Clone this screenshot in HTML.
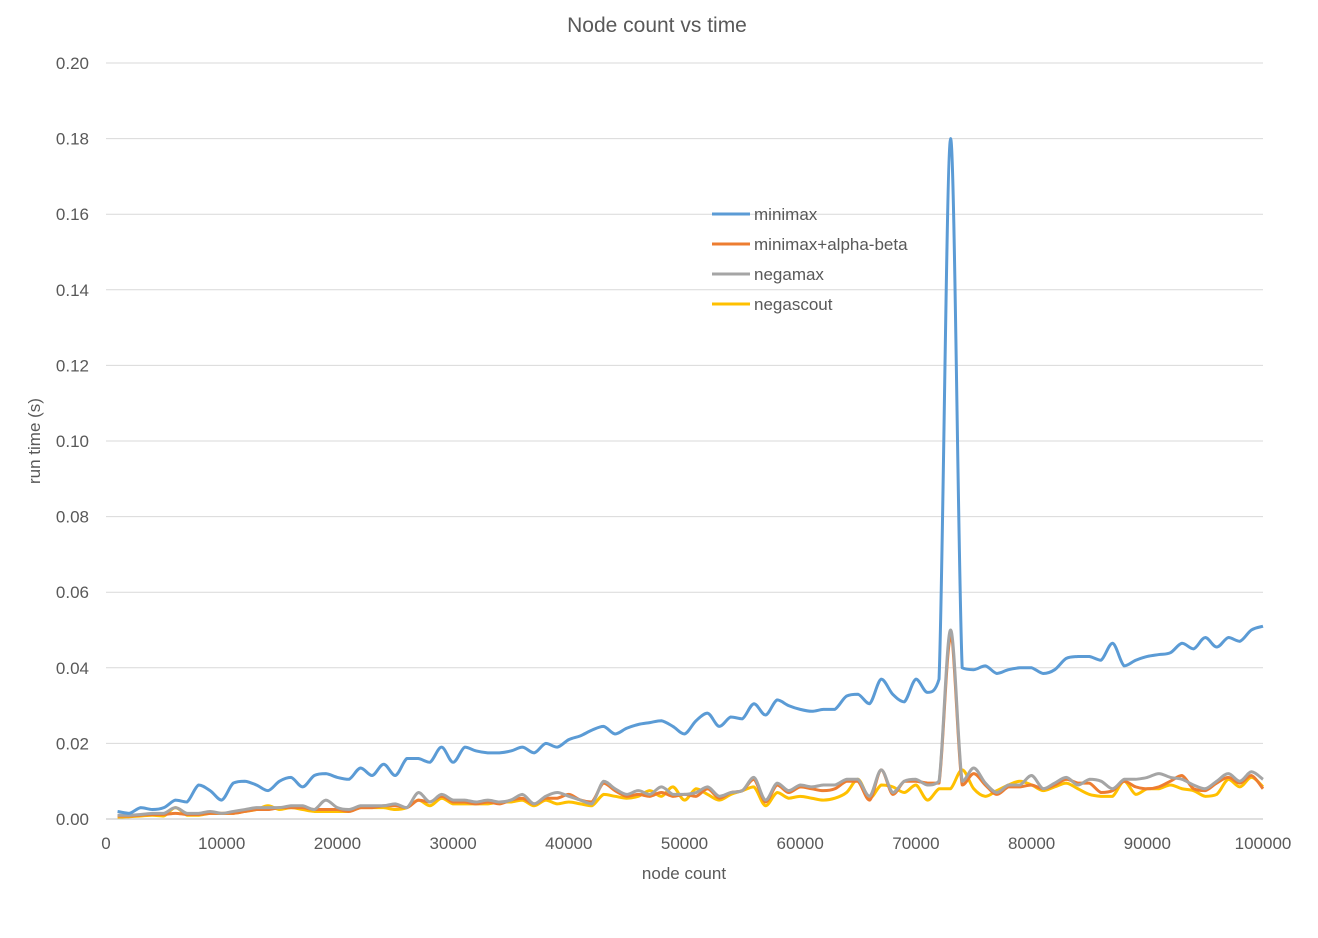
<!DOCTYPE html>
<html><head><meta charset="utf-8"><style>
body{margin:0;background:#fff;font-family:"Liberation Sans",sans-serif}
svg text{font-family:"Liberation Sans",sans-serif;fill:#595959}
</style></head><body>
<svg id="chart" width="1318" height="933" xmlns="http://www.w3.org/2000/svg">
<text x="657" y="32" text-anchor="middle" font-size="21">Node count vs time</text>
<g id="grid"></g>
<g id="yticks"></g>
<g id="xticks"></g>
<text x="684" y="879" text-anchor="middle" font-size="17">node count</text>
<text transform="translate(40,441) rotate(-90)" text-anchor="middle" font-size="17">run time (s)</text>
<g id="series"></g>
<g id="legend"></g>
</svg>
<script>
const names=["minimax","minimax+alpha-beta","negamax","negascout"];
const colors=["#5b9bd5","#ed7d31","#a5a5a5","#ffc000"];
const xTicks=[0,10000,20000,30000,40000,50000,60000,70000,80000,90000,100000];
const yTicks=[0,0.02,0.04,0.06,0.08,0.10,0.12,0.14,0.16,0.18,0.20];
const minimax=[2,1.5,3,2.5,3,5,4.5,9,7.5,5,9.5,10,9,7.5,10,11,8.5,11.5,12,11,10.5,13.5,11.5,14.5,11.5,16,16,15,19,15,19,18,17.5,17.5,18,19,17.5,20,19,21,22,23.5,24.5,22.5,24,25,25.5,26,24.5,22.5,26,28,24.5,27,26.5,30.5,27.5,31.5,30,29,28.5,29,29,32.5,33,30.5,37,33,31,37,33.5,37,180,40,39.5,40.5,38.5,39.5,40,40,38.5,39.5,42.5,43,43,42,46.5,40.5,42,43,43.5,44,46.5,45,48,45.5,48,47,50,51];
const alphabeta=[0.8,0.8,1,1.2,1.2,1.5,1.2,1.2,1.5,1.5,1.5,2,2.5,2.5,3,3,3,2.5,2.5,2.5,2,3,3,3.5,3.5,3,5,4.5,6,4.5,4.5,4,4.5,4,5,5.5,4,5.5,5.5,6.5,5,4.5,9.5,7.5,6,6.5,6,7,6,6.5,6,8,5.5,7,7.5,10.5,4.5,9,7,8.5,8,7.5,8,10,10,5,13,6.5,10,10,9.5,9.5,48,9,12,9,6.5,8.5,8.5,9,8,9,10.5,9.5,9.5,7,7.5,10,8.5,8,8.5,10,11.5,8,7.5,9.5,11,9.5,11.5,8];
const negamax=[1,1,1.2,1.5,1.5,3,1.5,1.5,2,1.5,2,2.5,3,3,3,3.5,3.5,2.5,5,3,2.5,3.5,3.5,3.5,4,3,7,4.5,6.5,5,5,4.5,5,4.5,5,6.5,4,6,7,6,5,4,10,8,6.5,7.5,6.5,8.5,6.5,6.5,7,8.5,6,7,7.5,11,5,9.5,7.5,9,8.5,9,9,10.5,10.5,6,13,7,10,10.5,9,10,50,10,13.5,9.5,7,9,9,11.5,8,9.5,11,9,10.5,10,8,10.5,10.5,11,12,11,10.5,9,8,10,12,10,12.5,10.5];
const negascout=[0.5,0.6,0.8,1,0.8,3,1,1,1.5,1.5,1.5,2,2.5,3.5,2.5,3,2.5,2,2,2,2,3,3,3,2.5,3,5,3.5,5.5,4,4,4,4,4.5,4.5,5,3.5,5,4,4.5,4,3.5,6.5,6,5.5,6,7.5,6,8.5,5,8,6.5,5,6.5,7.5,8.5,3.5,7,5.5,6,5.5,5,5.5,7,10.5,5.5,9,8.5,7,9,5,8,8,13,8,6,7.5,9,10,9,7.5,8.5,9.5,8,6.5,6,6,10,6.5,8,8,9,8,7.5,6,6.5,10.5,8.5,11,8.5];
const seriesData=[minimax,alphabeta,negamax,negascout];

const X0=106,X1=1263,Y0=819,Y1=63;
const xs=v=>X0+(v/100000)*(X1-X0);
const ys=v=>Y0-(v/0.2)*(Y0-Y1);
const NS="http://www.w3.org/2000/svg";
function mk(t,a,p){const e=document.createElementNS(NS,t);for(const k in a)e.setAttribute(k,a[k]);p.appendChild(e);return e;}
const grid=document.getElementById('grid'),yt=document.getElementById('yticks'),xt=document.getElementById('xticks');
yTicks.forEach((t,i)=>{
  const l=mk('line',{x1:X0,x2:X1,y1:ys(t),y2:ys(t),stroke:i==0?'#bfbfbf':'#d9d9d9','stroke-width':1},grid);
  
  
  const tx=mk('text',{x:89,y:ys(t)+6,'text-anchor':'end','font-size':17},yt);
  tx.textContent=t.toFixed(2);
  
  
});
xTicks.forEach(t=>{
  const tx=mk('text',{x:xs(t),y:849,'text-anchor':'middle','font-size':17},xt);
  tx.textContent=t;
  
  
});
const clamp=(v,a,b)=>Math.max(Math.min(a,b),Math.min(Math.max(a,b),v));
function smooth(pts){
  let d=`M${pts[0][0]},${pts[0][1]}`;
  for(let i=0;i<pts.length-1;i++){
    const p0=pts[i-1]||pts[i],p1=pts[i],p2=pts[i+1],p3=pts[i+2]||p2;
    const c1=[p1[0]+(p2[0]-p0[0])/6,clamp(p1[1]+(p2[1]-p0[1])/6,p1[1],p2[1])];
    const c2=[p2[0]-(p3[0]-p1[0])/6,clamp(p2[1]-(p3[1]-p1[1])/6,p1[1],p2[1])];
    d+=`C${c1[0]},${c1[1]} ${c2[0]},${c2[1]} ${p2[0]},${p2[1]}`;
  }
  return d;
}
const sg=document.getElementById('series');
[3,1,2,0].forEach(si=>{
  const pts=seriesData[si].map((v,i)=>[xs((i+1)*1000),ys(v/1000)]);
  const p=mk('path',{d:smooth(pts),fill:'none',stroke:colors[si],'stroke-width':3,'stroke-linejoin':'round'},sg);
  
  
});
const lg=document.getElementById('legend');
names.forEach((n,i)=>{
  const y=214+i*30;
  const g=mk('g',{},lg);
  
  
  mk('line',{x1:712,x2:750,y1:y,y2:y,stroke:colors[i],'stroke-width':3},g);
  const t=mk('text',{x:754,y:y+6,'font-size':17},g);
  t.textContent=n;
});
</script>
</body></html>
